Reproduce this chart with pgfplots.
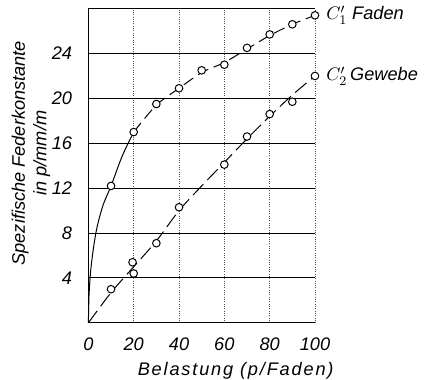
\documentclass[border=0pt]{standalone}
\usepackage{fontspec}
\setmainfont{Liberation Sans}
\usepackage{pgfplots}
\pgfplotsset{compat=1.18}
\begin{document}
\fontsize{11}{13}\selectfont\itshape
\begin{tikzpicture}
\begin{axis}[
  scale only axis, width=137pt, height=190pt,
  xmin=0, xmax=100, ymin=0, ymax=28,
  axis x line*=box, axis y line*=left,
  xtick={0,20,...,100}, ytick={4,8,...,24},
  major tick length=0pt,
  grid=major,
  major x grid style={densely dotted, thin, black!70},
  major y grid style={solid, semithick, black},
  axis line style={semithick, black},
  tick label style={font=\itshape},
  /pgf/number format/assume math mode=true,
  xticklabel style={yshift=-5pt},
  yticklabel style={xshift=-6pt},
  xlabel={\addfontfeatures{LetterSpace=10}Belastung (p/Faden)},
  ylabel={Spezifische Federkonstante\\in p/mm/m},
  ylabel style={align=center, at={(rel axis cs:-0.34,0.54)}, anchor=north, inner sep=0pt},
  xlabel style={at={(rel axis cs:0.65,-0.125)}, anchor=north, inner sep=0pt},
  clip=false,
]
\path (rel axis cs:-0.39,0.5) coordinate (leftpad);
% C1 curve, solid part
\addplot[smooth, semithick, black, tension=0.5] coordinates {
 (0,0) (0.3,2.5) (1,4.6) (2.2,6.6) (3.8,8.5) (6.5,10.5) (10,12.2) (15,14.9) (20,17.0)};
% C1 curve, dashed part
\addplot[smooth, semithick, black, dash pattern=on 7pt off 3.5pt] coordinates {
 (20,17.0) (30,19.4) (40,20.9) (50,22.3) (60,23.2) (70,24.4) (80,25.6) (90,26.6) (100,27.4)};
% C2 curve
\addplot[smooth, semithick, black, dash pattern=on 9pt off 3.5pt] coordinates {
 (0,0) (10,2.7) (20,5.0) (30,7.3) (40,10.0) (50,12.2) (60,14.3) (70,16.4) (80,18.4) (90,20.3) (100,22.0)};
% C1 data
\addplot[only marks, mark=*, mark size=2.3pt, mark options={fill=white, draw=black, semithick}] coordinates {
 (10,12.2) (20,17.0) (30,19.5) (40,20.9) (50,22.5) (60,23.0) (70,24.5) (80,25.7) (90,26.6) (100,27.4)};
% C2 data
\addplot[only marks, mark=*, mark size=2.3pt, mark options={fill=white, draw=black, semithick}] coordinates {
 (10,3.0) (19.5,5.4) (20,4.4) (30,7.1) (40,10.3) (60,14.1) (70,16.6) (80,18.6) (90,19.7) (100,22.0)};
\node[anchor=west, xshift=3pt] at (axis cs:100,27.4) {$C_1'$ Faden};
\node[anchor=west, xshift=3pt] at (axis cs:100,22.0) {$C_2'$\,Gewebe};
\end{axis}
\end{tikzpicture}
\end{document}
